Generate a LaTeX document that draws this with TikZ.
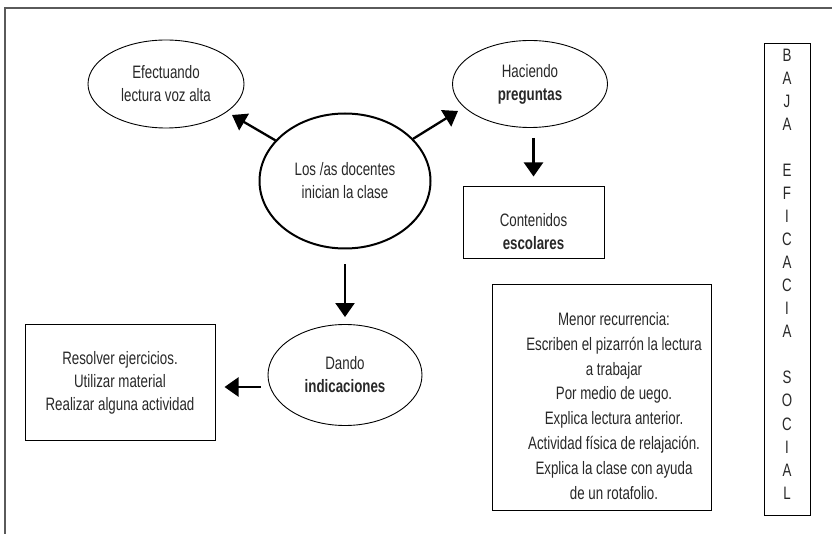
\documentclass[tikz,border=0pt]{standalone}
\usepackage{fontspec}
\setmainfont{Liberation Sans}[FakeStretch=0.74]
\usetikzlibrary{shapes.geometric,arrows.meta}
\definecolor{txt}{RGB}{40,40,40}
\definecolor{frame}{RGB}{90,90,90}
\begin{document}
\begin{tikzpicture}[x=1pt,y=-1pt,
  font=\fontsize{18}{23}\selectfont,
  ell/.style={ellipse, draw, line width=0.9pt, inner sep=0pt, align=center, text=txt},
  boxnode/.style={rectangle, draw, line width=1pt, inner sep=0pt},
  txtnode/.style={align=center, inner sep=0pt, text=txt},
  arr/.style={line width=2.3pt, -{Triangle[length=14pt,width=19pt]}}]
\useasboundingbox (0,0) rectangle (832,534);
\draw[frame, line width=1.6pt] (5,534) -- (5,8) -- (832,8);

\node[ell, minimum width=156pt, minimum height=88pt] (efe) at (166,84) {Efectuando\\lectura voz alta};
\node[ell, line width=2pt, minimum width=171pt, minimum height=135pt] (cen) at (345,181) {Los /as docentes\\inician la clase};
\node[ell, minimum width=155pt, minimum height=87pt] (hac) at (530,84) {Haciendo\\\textbf{preguntas}};
\node[ell, minimum width=154pt, minimum height=101pt] (dan) at (345,375) {Dando\\\textbf{indicaciones}};

\node[boxnode, minimum width=190pt, minimum height=115pt] (res) at (120,382.5) {};
\node[txtnode] (restxt) at (120,383) {Resolver ejercicios.\\Utilizar material\\Realizar alguna actividad};

\node[boxnode, minimum width=141pt, minimum height=72pt] (con) at (533.5,223) {};
\node[txtnode] (contxt) at (533.5,232) {Contenidos\\\textbf{escolares}};

\node[boxnode, minimum width=219pt, minimum height=225pt] (men) at (601.5,397.5) {};
\node[txtnode, font=\fontsize{18}{24.9}\selectfont] (mentxt) at (614,406) {Menor recurrencia:\\Escriben el pizarrón la lectura\\a trabajar\\Por medio de uego.\\Explica lectura anterior.\\Actividad física de relajación.\\Explica la clase con ayuda\\de un rotafolio.};

\node[boxnode, minimum width=46pt, minimum height=471pt] (baja) at (787,279.5) {};
\node[txtnode, font=\fontsize{18}{23.05}\selectfont] (bajatxt) at (787,274) {B\\A\\J\\A\\~\\E\\F\\I\\C\\A\\C\\I\\A\\~\\S\\O\\C\\I\\A\\L};

\coordinate (t1) at (232,115);
\coordinate (t2) at (458,111);
\draw[arr] (cen) -- (t1);
\draw[arr] (cen) -- (t2);
\draw[arr, shorten <=15pt, shorten >=7pt] (cen.south) -- (dan.north);
\draw[arr, shorten <=10pt, shorten >=10pt] (hac.south -| con.north) -- (con.north);
\draw[arr, shorten <=7pt, shorten >=9pt] ([yshift=-12pt]dan.west) -- ([yshift=-4.5pt]res.east);
\end{tikzpicture}
\end{document}
